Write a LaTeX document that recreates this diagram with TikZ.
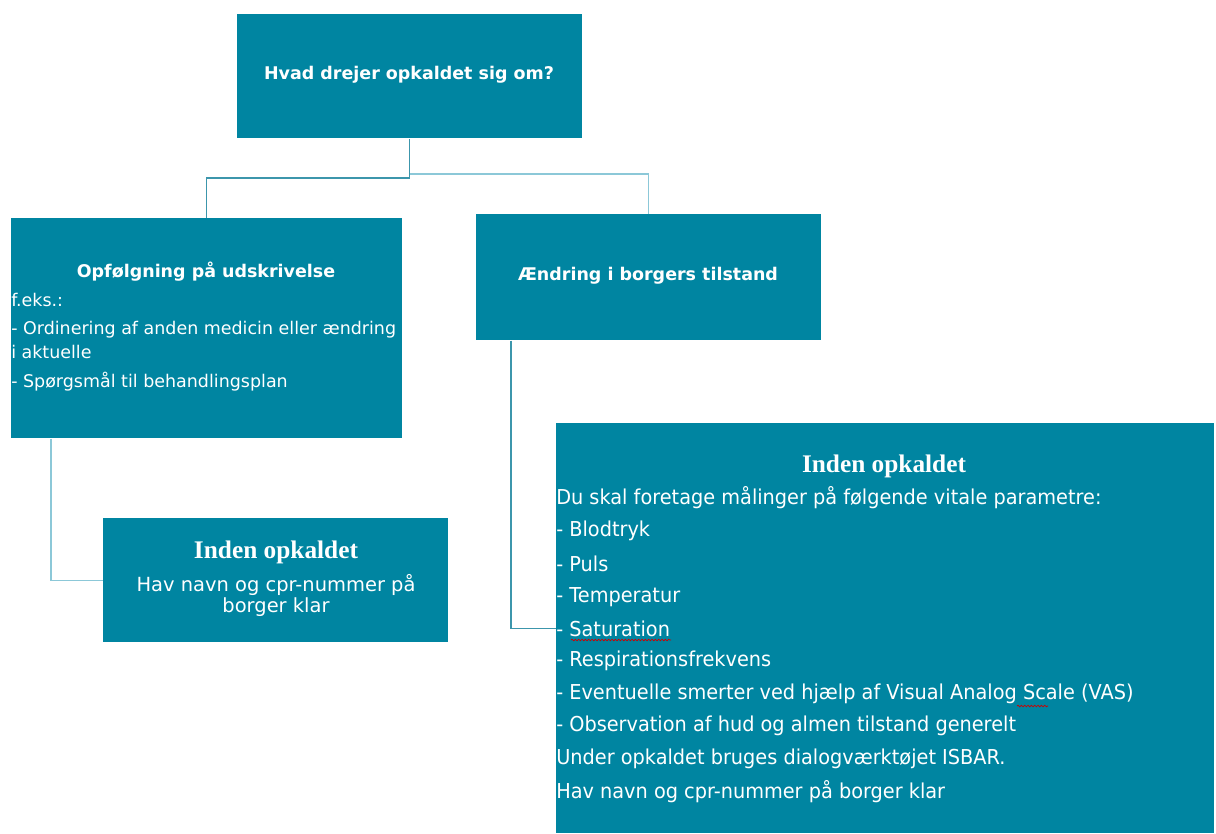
\documentclass[tikz,border=0pt]{standalone}
\usepackage{fontspec}
\setmainfont{DejaVu Sans}
\newfontfamily\condfont[FakeStretch=0.94]{DejaVu Sans}
\newfontfamily\serifbold[BoldFont={Liberation Serif Bold}]{Liberation Serif}
\usetikzlibrary{decorations.pathmorphing}
\definecolor{boxteal}{RGB}{0,133,161}
\definecolor{lineteal}{RGB}{60,150,172}
\definecolor{linelight}{RGB}{140,200,216}
\begin{document}
\begin{tikzpicture}[x=0.75pt,y=-0.75pt,
  box/.style={draw=none,fill=boxteal,rectangle,anchor=north west,inner sep=0pt},
  txt/.style={text=white,inner sep=0pt},
  head/.style={txt,font=\fontsize{13.1}{15}\selectfont\bfseries},
  body/.style={txt,font=\fontsize{13.1}{15}\selectfont,anchor=west},
  cbody/.style={txt,font=\condfont\fontsize{15.4}{18}\selectfont,anchor=west},
  serifhead/.style={txt,font=\serifbold\fontsize{19}{22}\selectfont\bfseries},
  conn/.style={line width=0.9pt},
  spell/.style={red!80!black,line width=0.5pt,decorate,decoration={snake,amplitude=0.6pt,segment length=2.5pt}}]
\useasboundingbox (0,0) rectangle (1216,833);
% boxes
\node[box,minimum width=258.75pt,minimum height=93pt] (top) at (237,14) {};
\node[box,minimum width=293.25pt,minimum height=165pt] (left) at (11,218) {};
\node[box,minimum width=258.75pt,minimum height=94.5pt] (right) at (476,214) {};
\node[box,minimum width=258.75pt,minimum height=93pt] (bl) at (103,518) {};
\node[box,minimum width=493.5pt,minimum height=307.5pt] (br) at (556,423) {};
% connectors
\draw[conn,lineteal] (top.south) -- (top.south |- 0,178) -| (left.north);
\draw[conn,linelight] (top.south |- 0,174) -| (right.north);
\draw[conn,linelight] (left.south west -| 51,0) |- (bl.west);
\draw[conn,lineteal] (right.south west -| 511,0) |- (br.west);
% texts
\node[head] (ttop) at (409,75) {Hvad drejer opkaldet sig om?};
\node[head] (tleft) at (206,272) {Opfølgning på udskrivelse};
\node[body] (l1) at (11,300) {f.eks.:};
\node[body] (l2) at (11,330) {- Ordinering af anden medicin eller ændring};
\node[body] (l3) at (11,352) {i aktuelle};
\node[body] (l4) at (11,382) {- Spørgsmål til behandlingsplan};
\node[head] (tright) at (648,276) {Ændring i borgers tilstand};
\node[serifhead] (tbl) at (276,552) {Inden opkaldet};
\node[txt,font=\fontsize{14.6}{17}\selectfont] (bl1) at (276,585) {Hav navn og cpr-nummer på};
\node[txt,font=\fontsize{14.6}{17}\selectfont] (bl2) at (276,607) {borger klar};
\node[serifhead] (tbr) at (884,466) {Inden opkaldet};
\node[cbody] (r1) at (556,498) {Du skal foretage målinger på følgende vitale parametre:};
\node[cbody] (r2) at (556,531) {- Blodtryk};
\node[cbody] (r3) at (556,564) {- Puls};
\node[cbody] (r4) at (556,597) {- Temperatur};
\node[cbody] (r5) at (556,629) {- Saturation};
\node[cbody] (r6) at (556,661) {- Respirationsfrekvens};
\node[cbody] (r7) at (556,694) {- Eventuelle smerter ved hjælp af Visual Analog Scale (VAS)};
\node[cbody] (r8) at (556,726) {- Observation af hud og almen tilstand generelt};
\node[cbody] (r9) at (556,759) {Under opkaldet bruges dialogværktøjet ISBAR.};
\node[cbody] (r10) at (556,792) {Hav navn og cpr-nummer på borger klar};
% spell-check underlines
\draw[spell] (571,640) -- (671,640);
\draw[spell] (1017,706) -- (1048,706);
\end{tikzpicture}
\end{document}
